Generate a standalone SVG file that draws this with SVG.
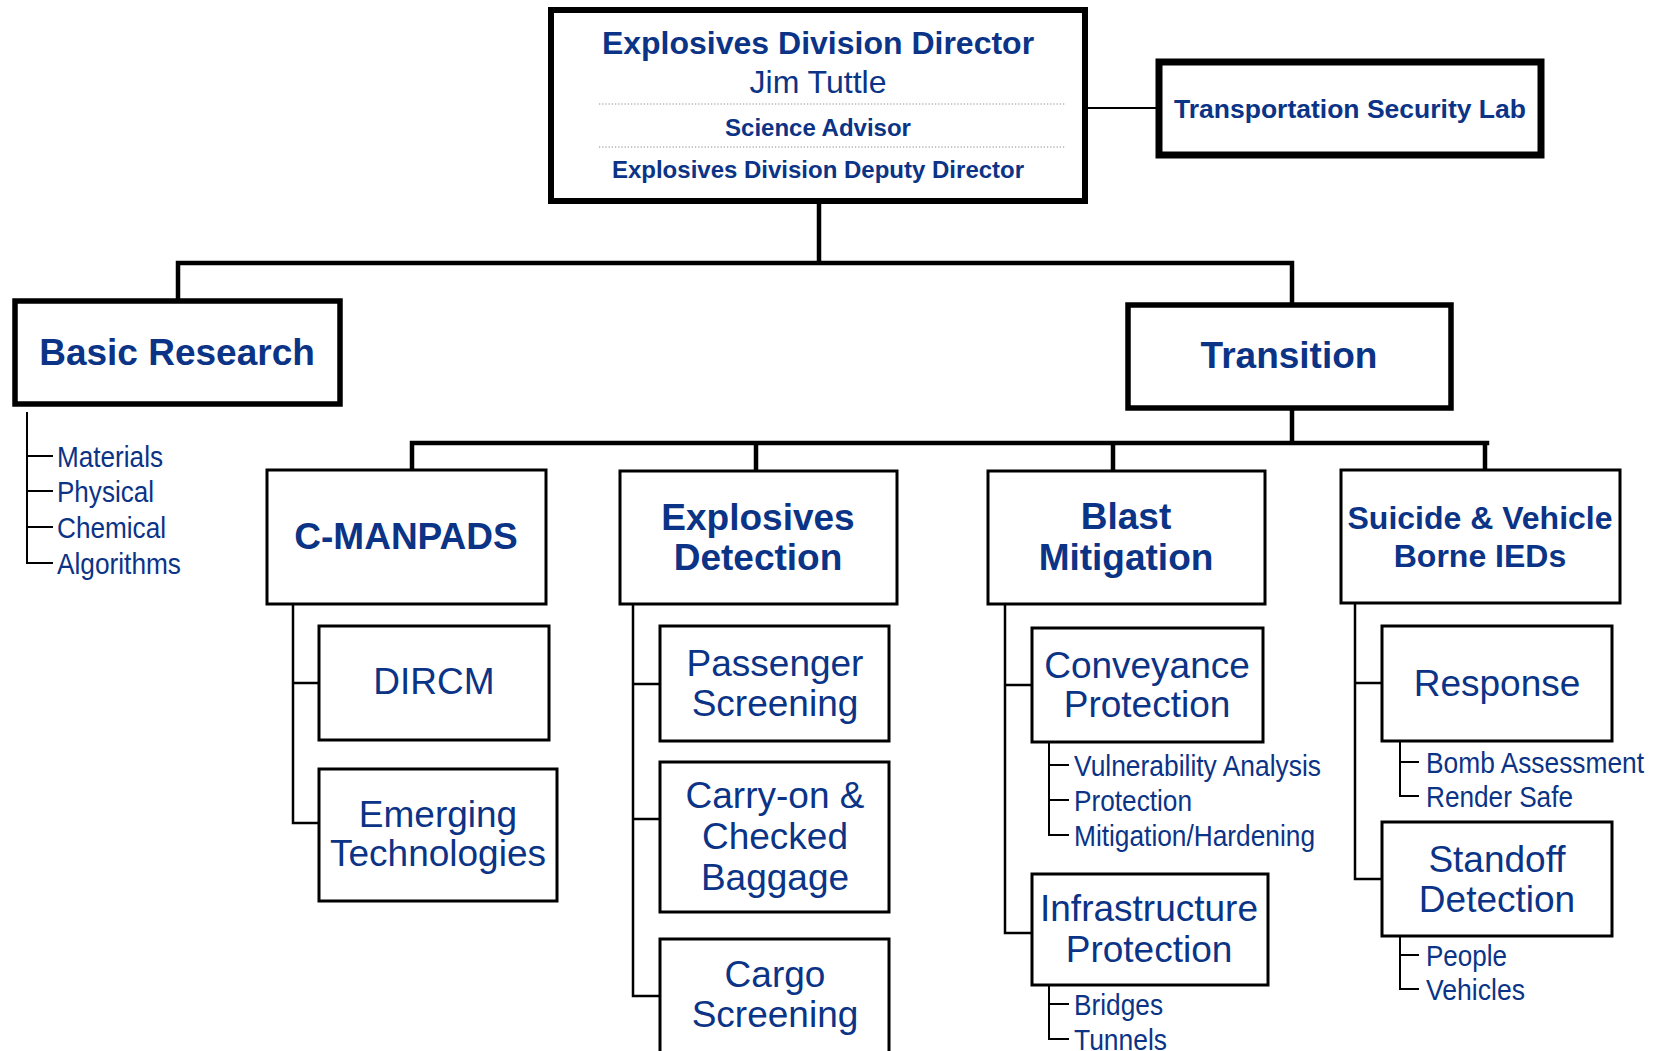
<svg xmlns="http://www.w3.org/2000/svg" width="1662" height="1051" viewBox="0 0 1662 1051">
<style>
text{font-family:"Liberation Sans",Arial,sans-serif;fill:#0B3386;text-anchor:middle}
.b{font-weight:bold}
.big{font-size:37px;font-weight:bold}
.sub{font-size:37px}
.li{font-size:30px;text-anchor:start}
.box{fill:#fff;stroke:#000}
.thk{stroke-width:6}
.mid{stroke-width:3}
.c{fill:none;stroke:#000;stroke-linecap:square}
.c4{stroke-width:4.5}
.c2{stroke-width:2.5}
.c1{stroke-width:2}
.dot{stroke:#888;stroke-width:1.2;stroke-dasharray:1.2 2}
</style>
<rect width="1662" height="1051" fill="#fff"/>
<g id="connectors">
<path class="c c4" d="M819 201V263M178 263H1292M178 263V299M1292 263V303M1292 409V443M412 443H1487M412 443V470M756 443V470M1113 443V470M1485 443V469"/>
<path class="c c1" d="M1085 108H1156"/>
<path class="c c2" d="M293 604V823H318M293 683H318M633 604V996H659M633 684H659M633 819H659M1005 604V933H1031M1005 685H1031M1355 603V879H1381M1355 683H1381"/>
<path class="c c1" d="M27 413V563H52M27 456H52M27 491H52M27 527H52M1049 742V835H1068M1049 765H1068M1049 800H1068M1049 985V1039H1068M1049 1004H1068M1400 741V796H1418M1400 762H1418M1400 936V989H1418M1400 955H1418"/>
</g>
<g id="director">
<rect class="box thk" x="551" y="10" width="534" height="191"/>
<line class="dot" x1="599" y1="104" x2="1065" y2="104"/>
<line class="dot" x1="599" y1="147" x2="1065" y2="147"/>
<text class="b" x="818" y="54" font-size="32">Explosives Division Director</text>
<text x="818" y="93" font-size="32">Jim Tuttle</text>
<text class="b" x="818" y="136" font-size="24">Science Advisor</text>
<text class="b" x="818" y="178" font-size="24">Explosives Division Deputy Director</text>
</g>
<g id="tsl">
<rect class="box" stroke-width="7" x="1159" y="62" width="382" height="93"/>
<text class="b" x="1350" y="118" font-size="26.5">Transportation Security Lab</text>
</g>
<g id="basic-research">
<rect class="box" stroke-width="5.5" x="15" y="301" width="325" height="103"/>
<text class="big" x="177" y="365">Basic Research</text>
<text class="li" x="57" y="467" textLength="106" lengthAdjust="spacingAndGlyphs">Materials</text>
<text class="li" x="57" y="502" textLength="97" lengthAdjust="spacingAndGlyphs">Physical</text>
<text class="li" x="57" y="538" textLength="109" lengthAdjust="spacingAndGlyphs">Chemical</text>
<text class="li" x="57" y="574" textLength="124" lengthAdjust="spacingAndGlyphs">Algorithms</text>
</g>
<g id="transition">
<rect class="box" stroke-width="5.5" x="1128" y="305" width="323" height="103"/>
<text class="big" x="1289" y="368">Transition</text>
</g>
<g id="c-manpads">
<rect class="box mid" x="267" y="470" width="279" height="134"/>
<text class="big" x="406" y="549">C-MANPADS</text>
</g>
<g id="dircm">
<rect class="box mid" x="319" y="626" width="230" height="114"/>
<text class="sub" x="434" y="694">DIRCM</text>
</g>
<g id="emerging">
<rect class="box mid" x="319" y="769" width="238" height="132"/>
<text class="sub" x="438" y="827">Emerging</text>
<text class="sub" x="438" y="866">Technologies</text>
</g>
<g id="explosives-detection">
<rect class="box mid" x="620" y="471" width="277" height="133"/>
<text class="big" x="758" y="530">Explosives</text>
<text class="big" x="758" y="570">Detection</text>
</g>
<g id="passenger">
<rect class="box mid" x="660" y="626" width="229" height="115"/>
<text class="sub" x="775" y="676">Passenger</text>
<text class="sub" x="775" y="716">Screening</text>
</g>
<g id="carry-on">
<rect class="box mid" x="660" y="762" width="229" height="150"/>
<text class="sub" x="775" y="808">Carry-on &amp;</text>
<text class="sub" x="775" y="849">Checked</text>
<text class="sub" x="775" y="890">Baggage</text>
</g>
<g id="cargo">
<rect class="box mid" x="660" y="939" width="229" height="130"/>
<text class="sub" x="775" y="987">Cargo</text>
<text class="sub" x="775" y="1027">Screening</text>
</g>
<g id="blast">
<rect class="box mid" x="988" y="471" width="277" height="133"/>
<text class="big" x="1126" y="529">Blast</text>
<text class="big" x="1126" y="570">Mitigation</text>
</g>
<g id="conveyance">
<rect class="box mid" x="1032" y="628" width="231" height="114"/>
<text class="sub" x="1147" y="678">Conveyance</text>
<text class="sub" x="1147" y="717">Protection</text>
<text class="li" x="1074" y="776" textLength="247" lengthAdjust="spacingAndGlyphs">Vulnerability Analysis</text>
<text class="li" x="1074" y="811" textLength="118" lengthAdjust="spacingAndGlyphs">Protection</text>
<text class="li" x="1074" y="846" textLength="241" lengthAdjust="spacingAndGlyphs">Mitigation/Hardening</text>
</g>
<g id="infrastructure">
<rect class="box mid" x="1032" y="874" width="236" height="111"/>
<text class="sub" x="1149" y="921">Infrastructure</text>
<text class="sub" x="1149" y="962">Protection</text>
<text class="li" x="1074" y="1015" textLength="89" lengthAdjust="spacingAndGlyphs">Bridges</text>
<text class="li" x="1074" y="1050" textLength="93" lengthAdjust="spacingAndGlyphs">Tunnels</text>
</g>
<g id="suicide">
<rect class="box mid" x="1341" y="470" width="279" height="133"/>
<text class="b" x="1480" y="529" font-size="32">Suicide &amp; Vehicle</text>
<text class="b" x="1480" y="567" font-size="32">Borne IEDs</text>
</g>
<g id="response">
<rect class="box mid" x="1382" y="626" width="230" height="115"/>
<text class="sub" x="1497" y="696">Response</text>
<text class="li" x="1426" y="773" textLength="218" lengthAdjust="spacingAndGlyphs">Bomb Assessment</text>
<text class="li" x="1426" y="807" textLength="147" lengthAdjust="spacingAndGlyphs">Render Safe</text>
</g>
<g id="standoff">
<rect class="box mid" x="1382" y="822" width="230" height="114"/>
<text class="sub" x="1497" y="872">Standoff</text>
<text class="sub" x="1497" y="912">Detection</text>
<text class="li" x="1426" y="966" textLength="81" lengthAdjust="spacingAndGlyphs">People</text>
<text class="li" x="1426" y="1000" textLength="99" lengthAdjust="spacingAndGlyphs">Vehicles</text>
</g>
</svg>
